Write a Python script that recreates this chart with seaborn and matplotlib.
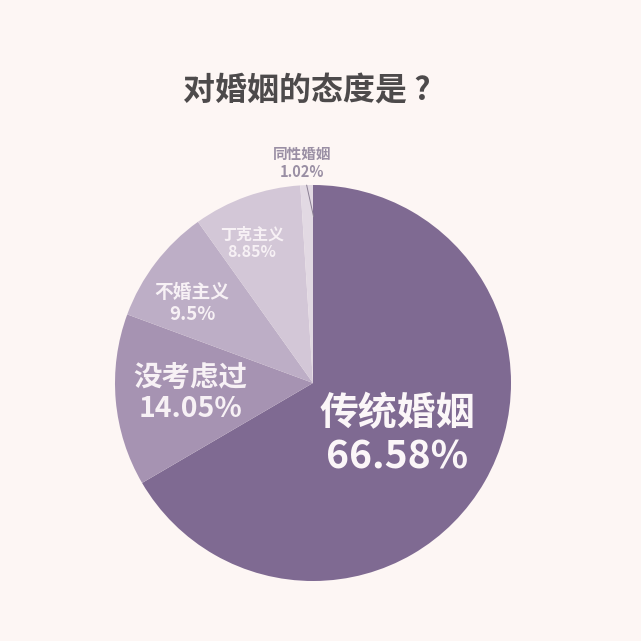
import numpy as np
import seaborn as sns
import matplotlib.pyplot as plt

# 数据
categories = ['传统婚姻', '没考虑过', '不婚主义', '丁克主义', '同性婚姻']
shares = [66.58, 14.05, 9.5, 8.85, 1.02]
pct_labels = ['66.58%', '14.05%', '9.5%', '8.85%', '1.02%']

colors = ['#7f6a92', '#a693b2', '#bdaec6', '#d3c7d7', '#e2d9e3']
label_dist = [0.50, 0.62, 0.73, 0.77, 1.11]
label_shift = [-2, 0, 4, 4, 0]   # 角度微调（度）
label_size = [28, 20.5, 13.5, 11.5, 10.5]
label_color = ['#fbf6f8', '#f7f1f5', '#f7f1f5', '#f7f1f5', '#9a8fa4']

sns.set_style('white')
plt.rcParams['font.family'] = ['Noto Sans CJK SC', 'DejaVu Sans']

bg = '#fdf6f4'
fig = plt.figure(figsize=(6.41, 6.41), dpi=100, facecolor=bg)
ax = fig.add_axes([0.1794, 0.0936, 0.6178, 0.6178])
ax.set_facecolor(bg)

wedges, _ = ax.pie(shares, colors=colors, startangle=90, counterclock=False,
                   radius=1.0, wedgeprops={'linewidth': 0})
ax.set_xlim(-1, 1)
ax.set_ylim(-1, 1)
ax.set_aspect('equal')
ax.axis('off')

for w, name, pct, d, sh, fs, c in zip(wedges, categories, pct_labels, label_dist,
                                      label_shift, label_size, label_color):
    ang = np.deg2rad((w.theta1 + w.theta2) / 2 + sh)
    x, y = d * np.cos(ang), d * np.sin(ang)
    if d > 1:
        # 小扇区：标签放外面，加引线
        ax.plot([0.84 * np.cos(ang) + 0.03, 1.0 * np.cos(ang)],
                [0.84 * np.sin(ang), 1.0 * np.sin(ang)],
                color='#8a7f93', lw=0.7, clip_on=False)
        x -= 0.02
    ax.text(x, y, name + '\n' + pct, ha='center', va='center', fontsize=fs,
            color=c, linespacing=1.15, fontweight='bold', clip_on=False)

fig.text(0.478, 0.857, '对婚姻的态度是 ?', ha='center', va='center',
         fontsize=23, fontweight='bold', color='#4d4a4b')

fig.savefig('out.png', dpi=100, facecolor=bg)
